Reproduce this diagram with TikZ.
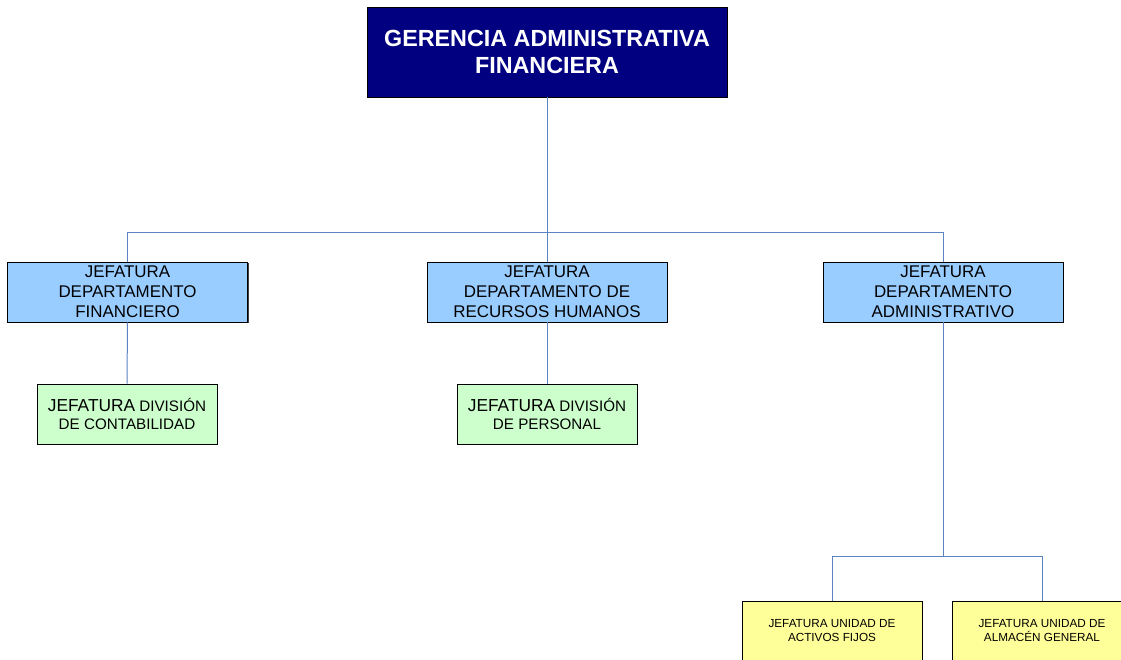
\documentclass[tikz,border=0pt]{standalone}
\usepackage{fontspec}
\setmainfont{Liberation Sans}
\usetikzlibrary{shadows}
\definecolor{navy}{HTML}{000080}
\definecolor{deptblue}{HTML}{99CCFF}
\definecolor{divgreen}{HTML}{CCFFCC}
\definecolor{unityellow}{HTML}{FFFF99}
\definecolor{linkblue}{HTML}{5B83C4}
\begin{document}
\begin{tikzpicture}[x=0.75pt,y=-0.75pt,
  box/.style={draw=black,line width=0.6pt,rectangle,align=center,inner sep=0pt,
    drop shadow={shadow xshift=0.9pt,shadow yshift=-0.9pt,fill=black!75,opacity=1}},
  topbox/.style={box,fill=navy,text=white,minimum width=270pt,minimum height=67.5pt,
    font=\fontsize{17.5}{20}\selectfont\bfseries},
  deptbox/.style={box,fill=deptblue,minimum width=180pt,minimum height=45pt,
    font=\fontsize{12.7}{15}\selectfont},
  divbox/.style={box,fill=divgreen,minimum width=135pt,minimum height=45pt,
    font=\fontsize{11.4}{13.5}\selectfont},
  unitbox/.style={box,fill=unityellow,minimum width=135pt,minimum height=45pt,
    font=\fontsize{8.8}{10.5}\selectfont},
  big/.style={},
  conn/.style={draw=linkblue,line width=0.75pt}
]
\path[use as bounding box,clip] (0,0) rectangle (1121,660);

\node[topbox] (top) at (547,52) {GERENCIA ADMINISTRATIVA\\FINANCIERA};

\node[deptbox] (d1) at (127.5,292) {JEFATURA\\DEPARTAMENTO\\FINANCIERO};
\node[deptbox] (d2) at (547,292) {JEFATURA\\DEPARTAMENTO DE\\RECURSOS HUMANOS};
\node[deptbox] (d3) at (943,292) {JEFATURA\\DEPARTAMENTO\\ADMINISTRATIVO};

\node[divbox] (g1) at (127,414) {{\fontsize{13}{13.5}\selectfont JEFATURA} DIVISIÓN\\DE CONTABILIDAD};
\node[divbox] (g2) at (547,414) {{\fontsize{13}{13.5}\selectfont JEFATURA} DIVISIÓN\\DE PERSONAL};

\node[unitbox] (u1) at (832,631) {JEFATURA UNIDAD DE\\ACTIVOS FIJOS};
\node[unitbox] (u2) at (1042,631) {JEFATURA UNIDAD DE\\ALMACÉN GENERAL};

\coordinate (bus) at (547,232);
\coordinate (bus2) at (943,556);

\draw[conn] (top.south) -- (bus);
\draw[conn] (bus) -| (d1.north);
\draw[conn] (bus) -- (d2.north);
\draw[conn] (bus) -| (d3.north);
\draw[conn] (d1.south) -- (g1.north);
\draw[conn] (d2.south) -- (g2.north);
\draw[conn] (d3.south) -- (bus2);
\draw[conn] (bus2) -| (u1.north);
\draw[conn] (bus2) -| (u2.north);
\end{tikzpicture}
\end{document}
